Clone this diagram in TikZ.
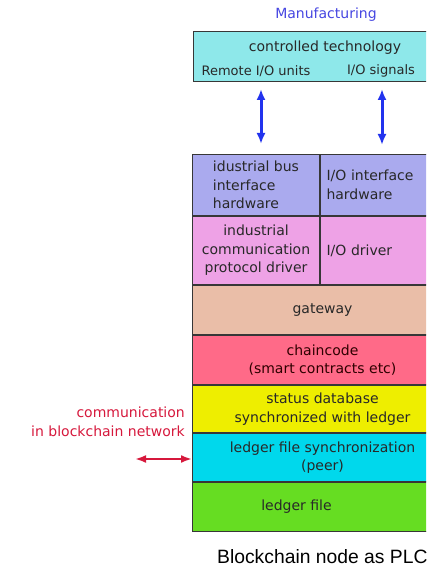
\documentclass[tikz,border=0pt]{standalone}
\usepackage{fontspec}
\setmainfont{DejaVu Sans}
\newfontfamily\captionfont{Liberation Sans}
\usepackage{tikz}
\usepackage{xcolor}
\usetikzlibrary{positioning,arrows.meta}

\definecolor{mfgblue}{RGB}{70,70,225}
\definecolor{techcyan}{RGB}{142,232,234}
\definecolor{hwpurple}{RGB}{170,170,238}
\definecolor{drvpink}{RGB}{238,162,230}
\definecolor{gwtan}{RGB}{234,190,168}
\definecolor{ccred}{RGB}{255,106,136}
\definecolor{dbyellow}{RGB}{238,238,0}
\definecolor{peercyan}{RGB}{0,216,236}
\definecolor{ledgergreen}{RGB}{102,221,34}
\definecolor{arrowblue}{RGB}{34,51,238}
\definecolor{netred}{RGB}{214,24,60}
\definecolor{boxline}{RGB}{55,55,55}
\definecolor{boxtext}{RGB}{40,40,40}

\tikzset{
    layer/.style={draw=boxline, line width=1pt, inner sep=0pt, minimum width=260pt,
        text=boxtext, align=center, font=\fontsize{14}{18.5}\selectfont},
    cell/.style={layer, minimum width=127pt},
    rightcell/.style={layer, minimum width=133pt, text width=121pt, align=left},
    smalllabel/.style={text=boxtext, inner sep=0pt, font=\fontsize{13}{16}\selectfont},
    ioarrow/.style={draw=arrowblue, line width=3pt, {Latex[length=11pt,width=9pt]}-{Latex[length=11pt,width=9pt]}},
    netarrow/.style={draw=netred, line width=2.4pt, {Latex[length=11pt,width=8pt]}-{Latex[length=11pt,width=8pt]}}
}

\begin{document}
\begin{tikzpicture}[x=1pt, y=1pt]
    \useasboundingbox (0,0) rectangle (426,-569);
    \clip (0,0) rectangle (426,-569);

    % manufacturing side
    \node[text=mfgblue, font=\fontsize{14}{16}\selectfont] (mfg) at (326,-15) {Manufacturing};
    \node[draw=boxline, line width=1pt, fill=techcyan, minimum width=250pt, minimum height=50pt,
        anchor=north west, inner sep=0pt] (tech) at (193,-31) {};
    \node[text=boxtext, inner sep=0pt, font=\fontsize{14}{16}\selectfont] (techname) at (325,-48) {controlled technology};
    \node[smalllabel] (remote) at (256,-71) {Remote I/O units};
    \node[smalllabel] (signals) at (381,-71) {I/O signals};

    % blockchain node stack
    \node[cell, fill=hwpurple, minimum height=61pt, anchor=north west, align=left] (busHW) at (192,-154)
        {idustrial bus\\interface\\hardware};
    \node[rightcell, fill=hwpurple, minimum height=61pt, right=0pt of busHW] (ioHW)
        {I/O interface\\hardware};
    \node[cell, fill=drvpink, minimum height=68pt, below=0pt of busHW] (protoDrv)
        {industrial\\communication\\protocol driver};
    \node[rightcell, fill=drvpink, minimum height=68pt, below=0pt of ioHW] (ioDrv)
        {I/O driver};
    \node[layer, fill=gwtan, minimum height=49pt, below=0pt of protoDrv.south west, anchor=north west] (gateway)
        {gateway};
    \node[layer, fill=ccred, minimum height=49pt, below=0pt of gateway, text=black!70!red!60!black] (chaincode)
        {chaincode\\(smart contracts etc)};
    \node[layer, fill=dbyellow, minimum height=47pt, below=0pt of chaincode] (statusdb)
        {status database\\synchronized with ledger};
    \node[layer, fill=peercyan, minimum height=48pt, below=0pt of statusdb] (peer)
        {ledger file synchronization\\(peer)};
    \node[layer, fill=ledgergreen, minimum height=49pt, below=0pt of peer] (ledger) {};
    \node[text=boxtext, inner sep=0pt, font=\fontsize{14}{18.5}\selectfont] (ledgername)
        at ([xshift=-26pt]ledger.center) {ledger file};

    % connectors
    \draw[ioarrow] ([yshift=-7pt]tech.south -| 261,0) -- ([yshift=10pt]busHW.north -| 261,0);
    \draw[ioarrow] ([yshift=-7pt]tech.south -| 382,0) -- ([yshift=9pt]ioHW.north -| 382,0);

    \node[text=netred, align=right, anchor=east, inner sep=0pt, font=\fontsize{14}{19.5}\selectfont]
        (netlabel) at (185,-422) {communication\\in blockchain network};
    \coordinate (netend) at (135,-459);
    \draw[netarrow] (netend) -- (peer.west |- netend);

    \node[anchor=west, inner sep=0pt, font=\captionfont\fontsize{19.3}{21}\selectfont] (caption)
        at (217,-557) {Blockchain node as PLC};
\end{tikzpicture}
\end{document}
